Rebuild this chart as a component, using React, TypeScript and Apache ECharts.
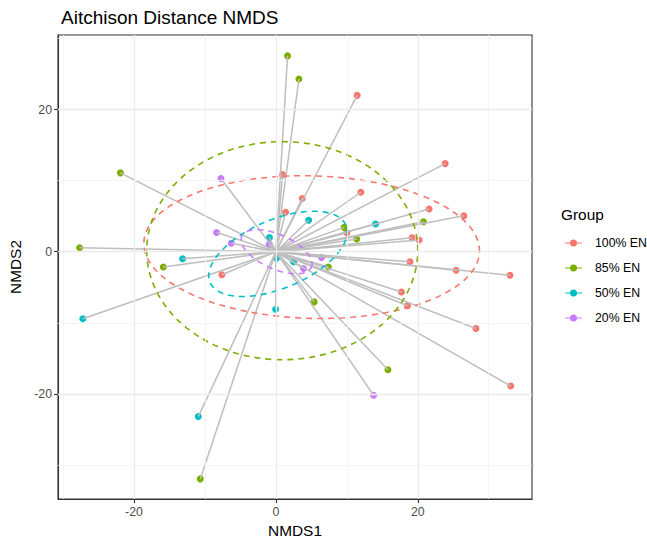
import React, { useEffect, useRef } from "react";
import * as echarts from "echarts";

// Groups and their colours (ggplot hue palette)
const groups = ["100% EN", "85% EN", "50% EN", "20% EN"];
const groupColors = ["#F8766D", "#7CAE00", "#00BFC4", "#C77CFF"];

// NMDS site scores per group: [NMDS1, NMDS2]
const en100: [number, number][] = [
  [11.46, 22.0], [23.86, 12.4], [11.98, 8.37], [0.95, 10.85], [3.72, 7.5],
  [1.37, 5.55], [21.6, 6.0], [26.5, 5.07], [10.0, 2.68], [19.2, 1.95],
  [20.2, 1.65], [18.9, -1.42], [25.4, -2.6], [33.0, -3.3], [17.7, -5.68],
  [18.55, -7.6], [28.2, -10.8], [33.1, -18.9], [-7.6, -3.24],
];
const en85: [number, number][] = [
  [1.65, 27.56], [3.25, 24.3], [-21.9, 11.1], [-27.65, 0.56], [-15.86, -2.15],
  [20.8, 4.23], [9.63, 3.43], [11.4, 1.8], [7.4, -2.15], [5.4, -7.06],
  [15.8, -16.6], [-10.65, -31.97],
];
const en50: [number, number][] = [
  [4.62, 4.42], [14.05, 3.9], [-0.9, 2.0], [-13.14, -0.98], [0.1, -0.9],
  [2.5, -1.4], [-0.03, -8.1], [-27.2, -9.43], [-10.93, -23.2],
];
const en20: [number, number][] = [
  [-7.73, 10.3], [-8.35, 2.7], [-6.28, 1.18], [-0.95, 1.0], [6.44, -0.8],
  [3.9, -2.35], [13.77, -20.2],
];
const groupPoints = [en100, en85, en50, en20];

// Point every spider segment is drawn to
const spiderOrigin: [number, number] = [0, 0];

// 95% ellipse summaries per group (centre, semi-axes, rotation in degrees)
const ellipseCenterX = [5.05, 0.9, 0.3, 0.1];
const ellipseCenterY = [0.65, 0.15, -0.3, 0.0];
const ellipseSemiMajor = [23.66, 19.1, 10.38, 5.36];
const ellipseSemiMinor = [10.03, 15.35, 4.83, 2.42];
const ellipseAngleDeg = [-1.5, 0, 22.8, -23.9];

// Axis ticks and grid
const xRange = [-30.7, 36.1];
const yRange = [-34.8, 30.5];
const xTicks = [-20, 0, 20];
const yTicks = [-20, 0, 20];
const xMinorGrid = [-30, -10, 10, 30];
const yMinorGrid = [-30, -10, 10, 30];

const FONT = "'Liberation Sans', Arial, Helvetica, sans-serif";

function ellipseOutline(i: number): [number, number][] {
  const th = (ellipseAngleDeg[i] * Math.PI) / 180;
  const a = ellipseSemiMajor[i];
  const b = ellipseSemiMinor[i];
  const out: [number, number][] = [];
  const n = 120;
  for (let k = 0; k <= n; k++) {
    const t = (2 * Math.PI * k) / n;
    const ex = a * Math.cos(t);
    const ey = b * Math.sin(t);
    out.push([
      ellipseCenterX[i] + ex * Math.cos(th) - ey * Math.sin(th),
      ellipseCenterY[i] + ex * Math.sin(th) + ey * Math.cos(th),
    ]);
  }
  return out;
}

// Legend key: short line with a dot in the middle
const legendIcon =
  "path://M0,2.9L17,2.9L17,4.1L0,4.1Z M12,3.5A3.5,3.5,0,1,1,5,3.5A3.5,3.5,0,1,1,12,3.5Z";

export default function App() {
  const ref = useRef<HTMLDivElement>(null);

  useEffect(() => {
    if (!ref.current) return;
    const chart = echarts.init(ref.current, undefined, { renderer: "svg" });

    const majorGrid = { color: "#EBEBEB", width: 1.3, type: "solid" };
    const minorGrid = { color: "#F2F2F2", width: 0.8, type: "solid" };
    const gridLines = [
      ...xMinorGrid.map((v) => ({ xAxis: v, lineStyle: minorGrid })),
      ...yMinorGrid.map((v) => ({ yAxis: v, lineStyle: minorGrid })),
      ...xTicks.map((v) => ({ xAxis: v, lineStyle: majorGrid })),
      ...yTicks.map((v) => ({ yAxis: v, lineStyle: majorGrid })),
    ];

    const series: any[] = [
      {
        type: "scatter",
        name: "grid",
        data: [],
        z: 1,
        silent: true,
        markLine: {
          silent: true,
          symbol: ["none", "none"],
          label: { show: false },
          emphasis: { disabled: true },
          animation: false,
          data: gridLines,
        },
      },
    ];

    groups.forEach((g, i) => {
      series.push({
        type: "scatter",
        name: g,
        data: groupPoints[i],
        symbol: "circle",
        symbolSize: 7,
        itemStyle: { color: groupColors[i], opacity: 1 },
        z: 2,
      });
    });

    const segments: any[] = [];
    groupPoints.forEach((pts) =>
      pts.forEach((p) => segments.push({ coords: [spiderOrigin, p] }))
    );
    series.push({
      type: "lines",
      name: "spider",
      coordinateSystem: "cartesian2d",
      data: segments,
      lineStyle: { color: "#BEBEBE", width: 1.5, opacity: 1, curveness: 0 },
      z: 3,
      silent: true,
    });

    groups.forEach((g, i) => {
      series.push({
        type: "line",
        name: g + " ellipse",
        data: ellipseOutline(i),
        showSymbol: false,
        symbol: "none",
        smooth: false,
        lineStyle: { color: groupColors[i], width: 1.6, type: [6, 5] },
        z: 4,
        silent: true,
      });
    });

    chart.setOption({
      animation: false,
      backgroundColor: "#FFFFFF",
      textStyle: { fontFamily: FONT },
      title: [
        {
          text: "Aitchison Distance NMDS",
          left: 56,
          top: 3,
          textStyle: { fontFamily: FONT, fontSize: 19, fontWeight: "normal", color: "#000000" },
        },
        {
          text: "Group",
          left: 556,
          top: 202,
          textStyle: { fontFamily: FONT, fontSize: 15.4, fontWeight: "normal", color: "#000000" },
        },
      ],
      legend: {
        data: groups.map((g) => ({ name: g, icon: legendIcon })),
        orient: "vertical",
        left: 560,
        top: 231,
        itemWidth: 17,
        itemHeight: 7,
        itemGap: 11,
        selectedMode: false,
        textStyle: {
          fontFamily: FONT,
          fontSize: 12.3,
          color: "#000000",
          lineHeight: 14,
          padding: [0, 0, 0, 8],
        },
      },
      grid: {
        left: 58,
        right: 115,
        top: 35,
        bottom: 46,
        show: true,
        borderColor: "#333333",
        borderWidth: 1.1,
        backgroundColor: "transparent",
        containLabel: false,
        outerBoundsMode: "none",
      },
      xAxis: {
        type: "value",
        min: xRange[0],
        max: xRange[1],
        name: "NMDS1",
        nameLocation: "middle",
        nameGap: 9,
        nameTextStyle: { fontFamily: FONT, fontSize: 15.4, color: "#000000" },
        axisLine: { show: true, onZero: false, lineStyle: { color: "#333333", width: 1.1 } },
        axisTick: {
          show: true,
          length: 4,
          customValues: xTicks,
          lineStyle: { color: "#333333", width: 1.1 },
        },
        axisLabel: {
          show: true,
          customValues: xTicks,
          margin: 7,
          fontFamily: FONT,
          fontSize: 12.3,
          color: "#4D4D4D",
        },
        splitLine: { show: false },
      },
      yAxis: {
        type: "value",
        min: yRange[0],
        max: yRange[1],
        name: "NMDS2",
        nameLocation: "middle",
        nameGap: 30,
        nameRotate: 90,
        nameTextStyle: { fontFamily: FONT, fontSize: 15.4, color: "#000000" },
        axisLine: { show: true, onZero: false, lineStyle: { color: "#333333", width: 1.1 } },
        axisTick: {
          show: true,
          length: 4,
          customValues: yTicks,
          lineStyle: { color: "#333333", width: 1.1 },
        },
        axisLabel: {
          show: true,
          customValues: yTicks,
          margin: 6,
          fontFamily: FONT,
          fontSize: 12.3,
          color: "#4D4D4D",
        },
        splitLine: { show: false },
      },
      series,
    });

    return () => chart.dispose();
  }, []);

  return (
    <div
      ref={ref}
      style={{ position: "fixed", left: 0, top: 0, width: 647, height: 545, background: "#fff" }}
    />
  );
}
